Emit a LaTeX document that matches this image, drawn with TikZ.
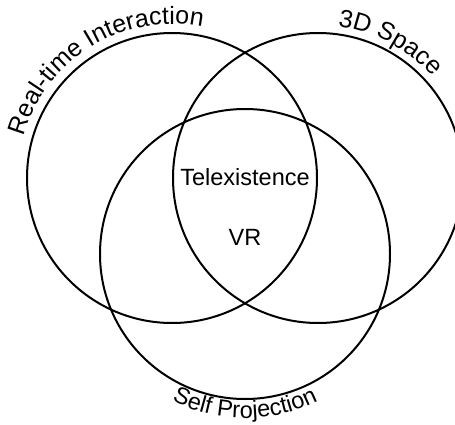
\documentclass[tikz,border=0pt]{standalone}
\usepackage{fontspec}
\setmainfont{Liberation Sans}
\usetikzlibrary{decorations.text}
\newcommand{\vennfont}{\fontsize{23.5}{27}\selectfont}
\newcommand{\vennarcfont}{\fontsize{25}{29}\selectfont}

\begin{document}
\begin{tikzpicture}[x=1pt, y=1pt,
    venn/.style={draw, line width=2pt},
    arclabel/.style={decorate, decoration={text along path, text align=center, text={#1}}}]
  \useasboundingbox (0,0) rectangle (455,424);
  \clip (0,0) rectangle (455,424);
  \coordinate (realtime) at (172,246);
  \coordinate (space) at (318,246);
  \coordinate (selfproj) at (245,170);
  \draw[venn] (realtime) circle[radius=145];
  \draw[venn] (space) circle[radius=145];
  \draw[venn] (selfproj) circle[radius=145];
  \path[arclabel={|\vennarcfont|Real-time Interaction}]
    ([shift={(172:154)}]realtime) arc[start angle=172, end angle=71, radius=154];
  \path[arclabel={|\vennarcfont|3D Space}]
    ([shift={(95:153)}]space) arc[start angle=95, end angle=29, radius=153];
  \path[arclabel={|\vennfont|Self Projection}]
    ([shift={(235:164)}]selfproj) arc[start angle=235, end angle=305, radius=164];
  \node[font=\vennfont] (telex) at (245,247) {Telexistence};
  \node[font=\vennfont] (vr) at (245,187) {VR};
\end{tikzpicture}
\end{document}
